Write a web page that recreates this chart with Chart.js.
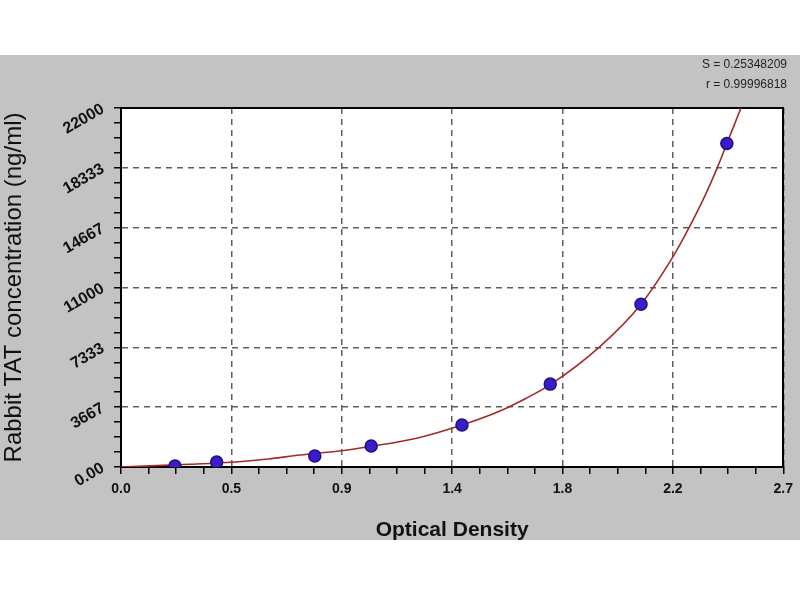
<!DOCTYPE html>
<html>
<head>
<meta charset="utf-8">
<script src="https://cdn.jsdelivr.net/npm/chart.js@4"></script>
<style>
  html, body { margin: 0; padding: 0; background: #fff; }
  #wrap { position: absolute; left: 0; top: 55px; width: 800px; height: 485px; background: #c3c3c3; }
  canvas { display: block; }
</style>
</head>
<body>
<div id="wrap"><canvas id="chart" width="800" height="485"></canvas></div>
<script>
// standard points (OD, concentration)
let standardOD = [0.22, 0.39, 0.79, 1.02, 1.39, 1.75, 2.12, 2.47];
let standardConc = [60, 300, 670, 1290, 2570, 5080, 9970, 19830];

// fitted curve
let curveOD = [0, 0.28, 0.48, 0.60, 0.73, 0.89, 1.01, 1.21, 1.39, 1.54, 1.65, 1.75, 1.95, 2.12, 2.25, 2.31, 2.38, 2.43, 2.48, 2.53, 2.56];
let curveConc = [0, 165, 325, 490, 735, 980, 1245, 1780, 2570, 3400, 4200, 5050, 7350, 9980, 12880, 14500, 16600, 18300, 20200, 22100, 23300];

let xTickLabels = ["0.0", "0.5", "0.9", "1.4", "1.8", "2.2", "2.7"];
let yTickLabels = ["0.00", "3667", "7333", "11000", "14667", "18333", "22000"];

let fitText = ["S = 0.25348209", "r = 0.99996818"];

let ctx = document.getElementById('chart').getContext('2d');

let points = standardOD.map((x, i) => ({x: x, y: standardConc[i]}));
let curve = curveOD.map((x, i) => ({x: x, y: curveConc[i]}));

let majorGrid = (ctx) => ctx.index % 4 === 0 ? '#5e5e5e' : 'rgba(0,0,0,0)';

// white plot area on the grey page
const plotBackground = {
    id: 'plotBackground',
    beforeDraw(chart) {
        const {ctx, chartArea} = chart;
        ctx.save();
        ctx.fillStyle = '#ffffff';
        ctx.fillRect(chartArea.left, chartArea.top, chartArea.width, chartArea.height);
        ctx.restore();
    }
};

let chart = new Chart(ctx, {
    type: 'scatter',
    data: {
        datasets: [{
            label: 'Standards',
            data: points,
            backgroundColor: '#3a1cc8',
            borderColor: '#1c0f8a',
            borderWidth: 1.5,
            pointRadius: 6,
            pointHoverRadius: 6,
            order: 1
        }, {
            label: 'Fit',
            data: curve,
            showLine: true,
            borderColor: '#a52a2a',
            borderWidth: 1.6,
            pointRadius: 0,
            cubicInterpolationMode: 'monotone',
            order: 2
        }]
    },
    plugins: [plotBackground],
    options: {
        responsive: false,
        animation: false,
        layout: {
            padding: { left: 0, right: 13, top: 0, bottom: 0 }
        },
        plugins: {
            legend: { display: false },
            tooltip: { enabled: false },
            title: {
                display: true,
                text: fitText,
                align: 'end',
                color: '#222',
                font: { family: 'Liberation Sans', size: 12, weight: 'normal', lineHeight: '20px' },
                padding: { top: 0, bottom: 13 }
            }
        },
        scales: {
            x: {
                type: 'linear',
                position: 'bottom',
                min: 0,
                max: 2.7,
                afterFit: (s) => { s.height = 73; },
                ticks: {
                    stepSize: 0.1125,
                    autoSkip: false,
                    maxRotation: 0,
                    padding: 7,
                    color: '#111',
                    font: { family: 'Liberation Sans', size: 14, weight: 'bold' },
                    callback: (v, i) => i % 4 === 0 ? xTickLabels[i / 4] : ''
                },
                grid: {
                    color: majorGrid,
                    lineWidth: 1.5,
                    tickColor: '#000',
                    tickWidth: 1.5,
                    tickLength: 7
                },
                border: { color: '#000', width: 2, dash: [6, 5] },
                title: {
                    display: true,
                    text: 'Optical Density',
                    color: '#111',
                    font: { family: 'Liberation Sans', size: 21, weight: 'bold', lineHeight: 0.95 },
                    padding: { top: 0, bottom: 0 }
                }
            },
            y: {
                type: 'linear',
                position: 'left',
                min: 0,
                max: 22000,
                afterFit: (s) => { s.width = 121; },
                ticks: {
                    stepSize: 22000 / 24,
                    autoSkip: false,
                    minRotation: 30,
                    maxRotation: 30,
                    padding: 11,
                    color: '#111',
                    font: { family: 'Liberation Sans', size: 16, weight: 'bold' },
                    callback: (v, i) => i % 4 === 0 ? yTickLabels[i / 4] : ''
                },
                grid: {
                    color: majorGrid,
                    lineWidth: 1.5,
                    tickColor: '#000',
                    tickWidth: 1.5,
                    tickLength: 7
                },
                border: { color: '#000', width: 2, dash: [6, 5] },
                title: {
                    display: true,
                    text: 'Rabbit TAT concentration (ng/ml)',
                    color: '#111',
                    font: { family: 'Liberation Sans', size: 24, lineHeight: 1 },
                    padding: { top: 2, bottom: 0 }
                }
            },
            xTop: {
                type: 'linear',
                position: 'top',
                min: 0,
                max: 2.7,
                ticks: { display: false },
                grid: { display: false, drawTicks: false },
                border: { display: true, color: '#000', width: 2 }
            },
            yRight: {
                type: 'linear',
                position: 'right',
                min: 0,
                max: 22000,
                ticks: { display: false },
                grid: { display: false, drawTicks: false },
                border: { display: true, color: '#000', width: 2 }
            }
        }
    }
});
</script>
</body>
</html>
